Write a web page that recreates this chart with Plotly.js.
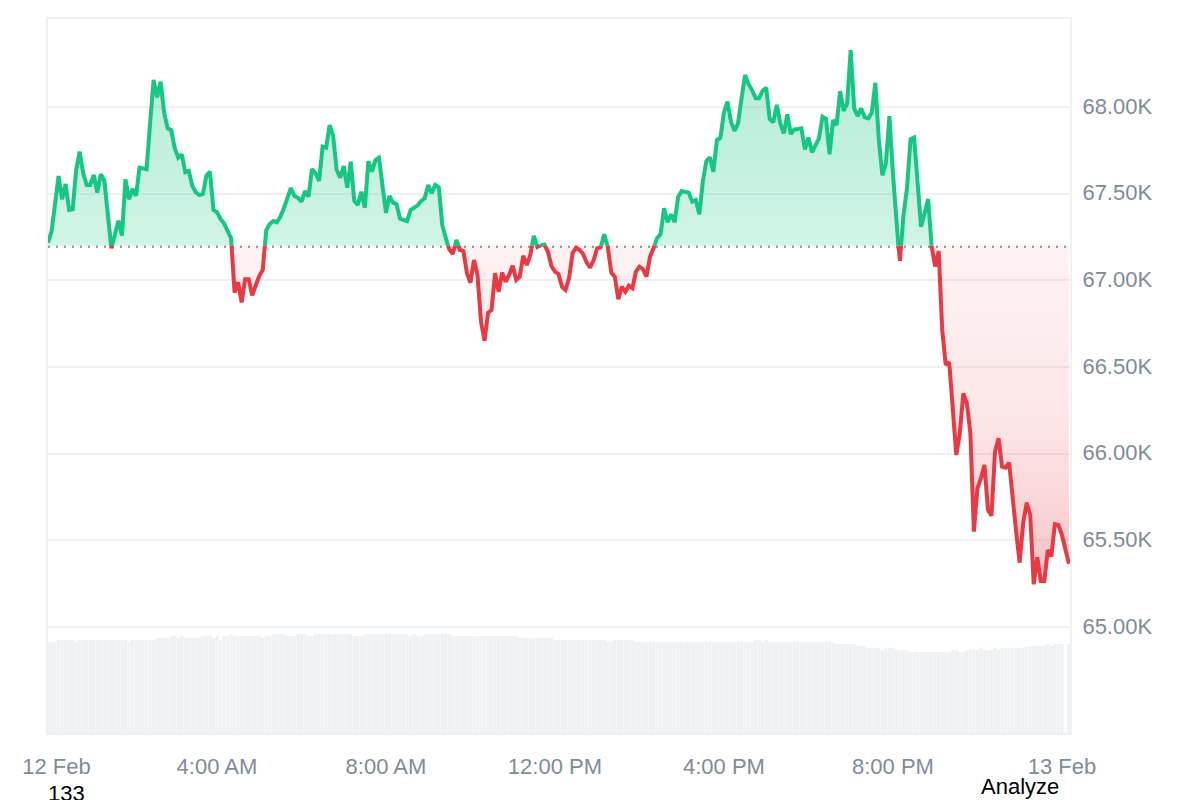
<!DOCTYPE html>
<html>
<head>
<meta charset="utf-8">
<title>Price chart</title>
<script src="https://cdn.plot.ly/plotly-3.0.1.min.js"></script>
<style>
    html, body { margin: 0; padding: 0; background: #fff; overflow: hidden; }
    #chart { width: 1200px; height: 800px; }
</style>
</head>
<body>
<div id="chart"></div>
<script>
// one price and one volume reading per 5 minute step, starting 12 Feb 00:00
const STEP_MINUTES = 5;
const BASELINE = 67200;
const DOTTED_LEVEL = 67194; // the dots sit just under the edge of the fill

const prices = [
    67217, 67281, 67440, 67602, 67468, 67556, 67406, 67410, 67637, 67742,
    67618, 67550, 67550, 67608, 67506, 67613, 67575, 67388, 67185, 67267,
    67344, 67258, 67583, 67468, 67527, 67488, 67650, 67646, 67641, 67906,
    68156, 68056, 68146, 67964, 67877, 67867, 67762, 67708, 67727, 67623,
    67631, 67544, 67508, 67492, 67498, 67604, 67627, 67406, 67394, 67354,
    67329, 67286, 67243, 66929, 66989, 66873, 67006, 67006, 66914, 66967,
    67025, 67060, 67290, 67325, 67342, 67335, 67367, 67416, 67473, 67533,
    67487, 67477, 67454, 67515, 67483, 67642, 67618, 67573, 67771, 67765,
    67896, 67833, 67637, 67592, 67660, 67534, 67684, 67458, 67435, 67511,
    67419, 67688, 67627, 67694, 67708, 67540, 67390, 67487, 67448, 67439,
    67356, 67348, 67342, 67406, 67419, 67433, 67458, 67473, 67550, 67502,
    67550, 67537, 67319, 67233, 67179, 67152, 67233, 67175, 67169, 67041,
    66986, 67117, 67031, 66761, 66652, 66813, 66829, 67041, 66934, 67044,
    66992, 67031, 67084, 67002, 67021, 67142, 67088, 67146, 67256, 67192,
    67202, 67206, 67165, 67083, 67050, 67037, 66963, 66944, 67012, 67156,
    67188, 67175, 67152, 67102, 67073, 67117, 67185, 67191, 67266, 67194,
    67044, 67021, 66891, 66963, 66934, 66969, 66954, 67050, 67079, 67065,
    67021, 67136, 67185, 67243, 67267, 67416, 67335, 67381, 67335, 67483,
    67515, 67511, 67506, 67454, 67463, 67381, 67569, 67688, 67710, 67627,
    67810, 67823, 67969, 68031, 67915, 67863, 67906, 68050, 68185, 68131,
    68098, 68050, 68050, 68094, 68111, 67931, 67912, 68012, 67906, 67848,
    67958, 67844, 67871, 67873, 67877, 67756, 67825, 67739, 67781, 67819,
    67944, 67931, 67727, 67925, 67896, 68092, 67977, 68021, 68329, 67992,
    67948, 67992, 67941, 67935, 67967, 68140, 67810, 67606, 67675, 67948,
    67618, 67309, 67113, 67377, 67531, 67814, 67825, 67579, 67309, 67387,
    67469, 67194, 67080, 67169, 66714, 66512, 66527, 66252, 65992, 66118,
    66348, 66291, 66118, 65550, 65800, 65858, 65935, 65675, 65642, 66011,
    66089, 65925, 65919, 65948, 65733, 65550, 65371, 65598, 65717, 65646,
    65246, 65402, 65265, 65265, 65444, 65406, 65593, 65589, 65531, 65444, 65364
];

const volumes = [
    93, 93, 93, 95, 95, 95, 95, 95, 93, 95, 95, 95, 95, 95, 95, 95, 95, 95, 95, 95,
    95, 95, 95, 93, 95, 95, 95, 95, 95, 95, 95, 97, 97, 97, 97, 99, 99, 97, 99, 97,
    97, 97, 97, 97, 99, 99, 99, 97, 99, 95, 99, 99, 101, 99, 99, 99, 99, 99, 99,
    99, 99, 97, 99, 99, 101, 101, 101, 101, 99, 99, 99, 101, 101, 101, 99, 99,
    101, 101, 101, 101, 101, 101, 101, 101, 101, 101, 101, 99, 99, 99,
    101, 101, 101, 101, 101, 101, 101, 101, 101, 101, 101, 101, 101, 99, 101, 99, 99,
    101, 101, 101, 101, 101, 101, 101, 101, 99, 99,
    99, 99, 99, 99, 99, 99, 99, 99, 99, 99, 99, 99, 99, 99, 99, 99, 99,
    97, 97, 97, 97, 97, 97, 97, 97, 97, 97,
    95, 95, 95, 95, 95, 95, 95, 95, 95, 95, 95, 95, 95, 95, 95,
    93, 93, 95, 95, 95, 95, 95, 95, 93, 93, 93, 93, 93, 93, 93, 93, 93,
    93, 93, 93, 93, 93, 93, 93, 93, 93, 93, 93, 93, 93, 93, 93, 93, 93, 93, 93, 93, 93, 93, 93, 93, 93,
    95, 95, 93, 95,
    93, 93, 93, 93, 93, 93, 93, 93, 93, 93, 93, 93, 93, 93, 93, 93, 93, 93, 93,
    91, 91, 91, 91, 91, 91, 89, 89, 89, 87,
    87, 87, 87, 85, 87, 87, 87, 85, 85, 85, 85,
    83, 83, 83, 83, 83, 83, 83, 83, 83, 83, 83, 83,
    85, 85, 83, 83, 85, 85, 85, 85, 87, 85, 85, 85, 87, 85,
    87, 87, 87, 87, 87, 87, 87, 89, 89, 89, 89, 89, 89, 91, 89, 91, 91, 91, null, 91
];

const priceTicks = [65000, 65500, 66000, 66500, 67000, 67500, 68000];
const priceLabels = ['65.00K', '65.50K', '66.00K', '66.50K', '67.00K', '67.50K', '68.00K'];
const timeTicks = [12, 240, 480, 720, 960, 1200, 1440];
const timeLabels = ['12 Feb', '4:00 AM', '8:00 AM', '12:00 PM', '4:00 PM', '8:00 PM', '13 Feb'];

const GREEN = '#16c784';
const RED = '#ea3943';
const MUTED = '#808a9d';
const GRID = '#eff2f5';
const FONT = '"Liberation Sans", Arial, sans-serif';

// adds the points where the price crosses the baseline, so both colours meet exactly on it
function splitAtBaseline(values) {
    const xs = [], ys = [];
    values.forEach((v, i) => {
        if (i > 0 && (values[i - 1] - BASELINE) * (v - BASELINE) < 0) {
            const t = (BASELINE - values[i - 1]) / (v - values[i - 1]);
            xs.push((i - 1 + t) * STEP_MINUTES);
            ys.push(BASELINE);
        }
        xs.push(i * STEP_MINUTES);
        ys.push(v);
    });
    return { xs, ys };
}

// sign 1 keeps the part of the line above the baseline, -1 the part below
function lineTrace(xs, ys, color, sign) {
    const onSide = v => v !== undefined && sign * (v - BASELINE) > 0;
    return {
        type: 'scatter', mode: 'lines', x: xs,
        y: ys.map((v, i) => (onSide(v) || onSide(ys[i - 1]) || onSide(ys[i + 1])) && sign * (v - BASELINE) >= 0 ? v : null),
        line: { color: color, width: 4 },
        connectgaps: false, hoverinfo: 'skip', showlegend: false
    };
}

function areaTraces(xs, ys, colorscale, start, stop) {
    return [{
        type: 'scatter', mode: 'lines', x: xs, y: xs.map(() => BASELINE),
        line: { width: 0 }, hoverinfo: 'skip', showlegend: false
    }, {
        type: 'scatter', mode: 'lines', x: xs, y: ys,
        line: { width: 0 }, fill: 'tonexty',
        fillgradient: { type: 'vertical', start: start, stop: stop, colorscale: colorscale },
        hoverinfo: 'skip', showlegend: false
    }];
}

const { xs, ys } = splitAtBaseline(prices);

const volumeTrace = {
    type: 'bar', yaxis: 'y2',
    x: volumes.map((_, i) => i * STEP_MINUTES),
    y: volumes,
    width: STEP_MINUTES * 0.94,
    marker: { color: GRID, line: { width: 0 } },
    hoverinfo: 'skip', showlegend: false
};

const baselineTrace = {
    type: 'scatter', mode: 'lines',
    x: [0, 1451.5], y: [DOTTED_LEVEL, DOTTED_LEVEL],
    line: { color: '#8f8a8a', width: 2, dash: '2px,6px' },
    hoverinfo: 'skip', showlegend: false
};

const traces = [
    volumeTrace,
    ...areaTraces(xs, ys.map(v => Math.max(v, BASELINE)),
        [[0, 'rgba(22,199,132,0.20)'], [1, 'rgba(22,199,132,0.33)']], BASELINE, 68329),
    ...areaTraces(xs, ys.map(v => Math.min(v, BASELINE)),
        [[0, 'rgba(234,57,67,0.31)'], [0.07, 'rgba(234,57,67,0.29)'], [0.25, 'rgba(234,57,67,0.20)'],
         [0.544, 'rgba(234,57,67,0.116)'], [1, 'rgba(234,57,67,0.065)']], 65246, BASELINE),
    baselineTrace,
    lineTrace(xs, ys, GREEN, 1),
    lineTrace(xs, ys, RED, -1)
];

const layout = {
    width: 1200, height: 800,
    margin: { l: 48, r: 130, t: 19, b: 67 },
    paper_bgcolor: '#fff', plot_bgcolor: '#fff',
    font: { family: FONT, size: 22, color: MUTED },
    showlegend: false,
    xaxis: {
        range: [0, 1451.5], showgrid: false, zeroline: false,
        tickmode: 'array', tickvals: timeTicks, ticktext: timeLabels,
        ticks: 'outside', ticklen: 13, tickcolor: 'rgba(0,0,0,0)',
        showline: true, mirror: true, linecolor: GRID, linewidth: 2
    },
    yaxis: {
        side: 'right', range: [64388, 68508], zeroline: false,
        tickmode: 'array', tickvals: priceTicks, ticktext: priceLabels,
        ticks: 'outside', ticklen: 6, tickcolor: 'rgba(0,0,0,0)', ticklabelshift: -1,
        gridcolor: GRID, gridwidth: 2,
        showline: true, mirror: true, linecolor: GRID, linewidth: 2
    },
    yaxis2: {
        overlaying: 'y', side: 'left', range: [2, 716],
        visible: false, showgrid: false, zeroline: false
    },
    annotations: [
        { text: '133', xref: 'paper', yref: 'paper', x: 18 / 1022, y: -60 / 714, xanchor: 'center', yanchor: 'middle',
          showarrow: false, font: { family: FONT, size: 22, color: '#000' } },
        { text: 'Analyze', xref: 'paper', yref: 'paper', x: 971.5 / 1022, y: -53 / 714, xanchor: 'center', yanchor: 'middle',
          showarrow: false, font: { family: FONT, size: 22, color: '#000' } }
    ]
};

Plotly.newPlot('chart', traces, layout, { displayModeBar: false, responsive: false });
</script>
</body>
</html>
